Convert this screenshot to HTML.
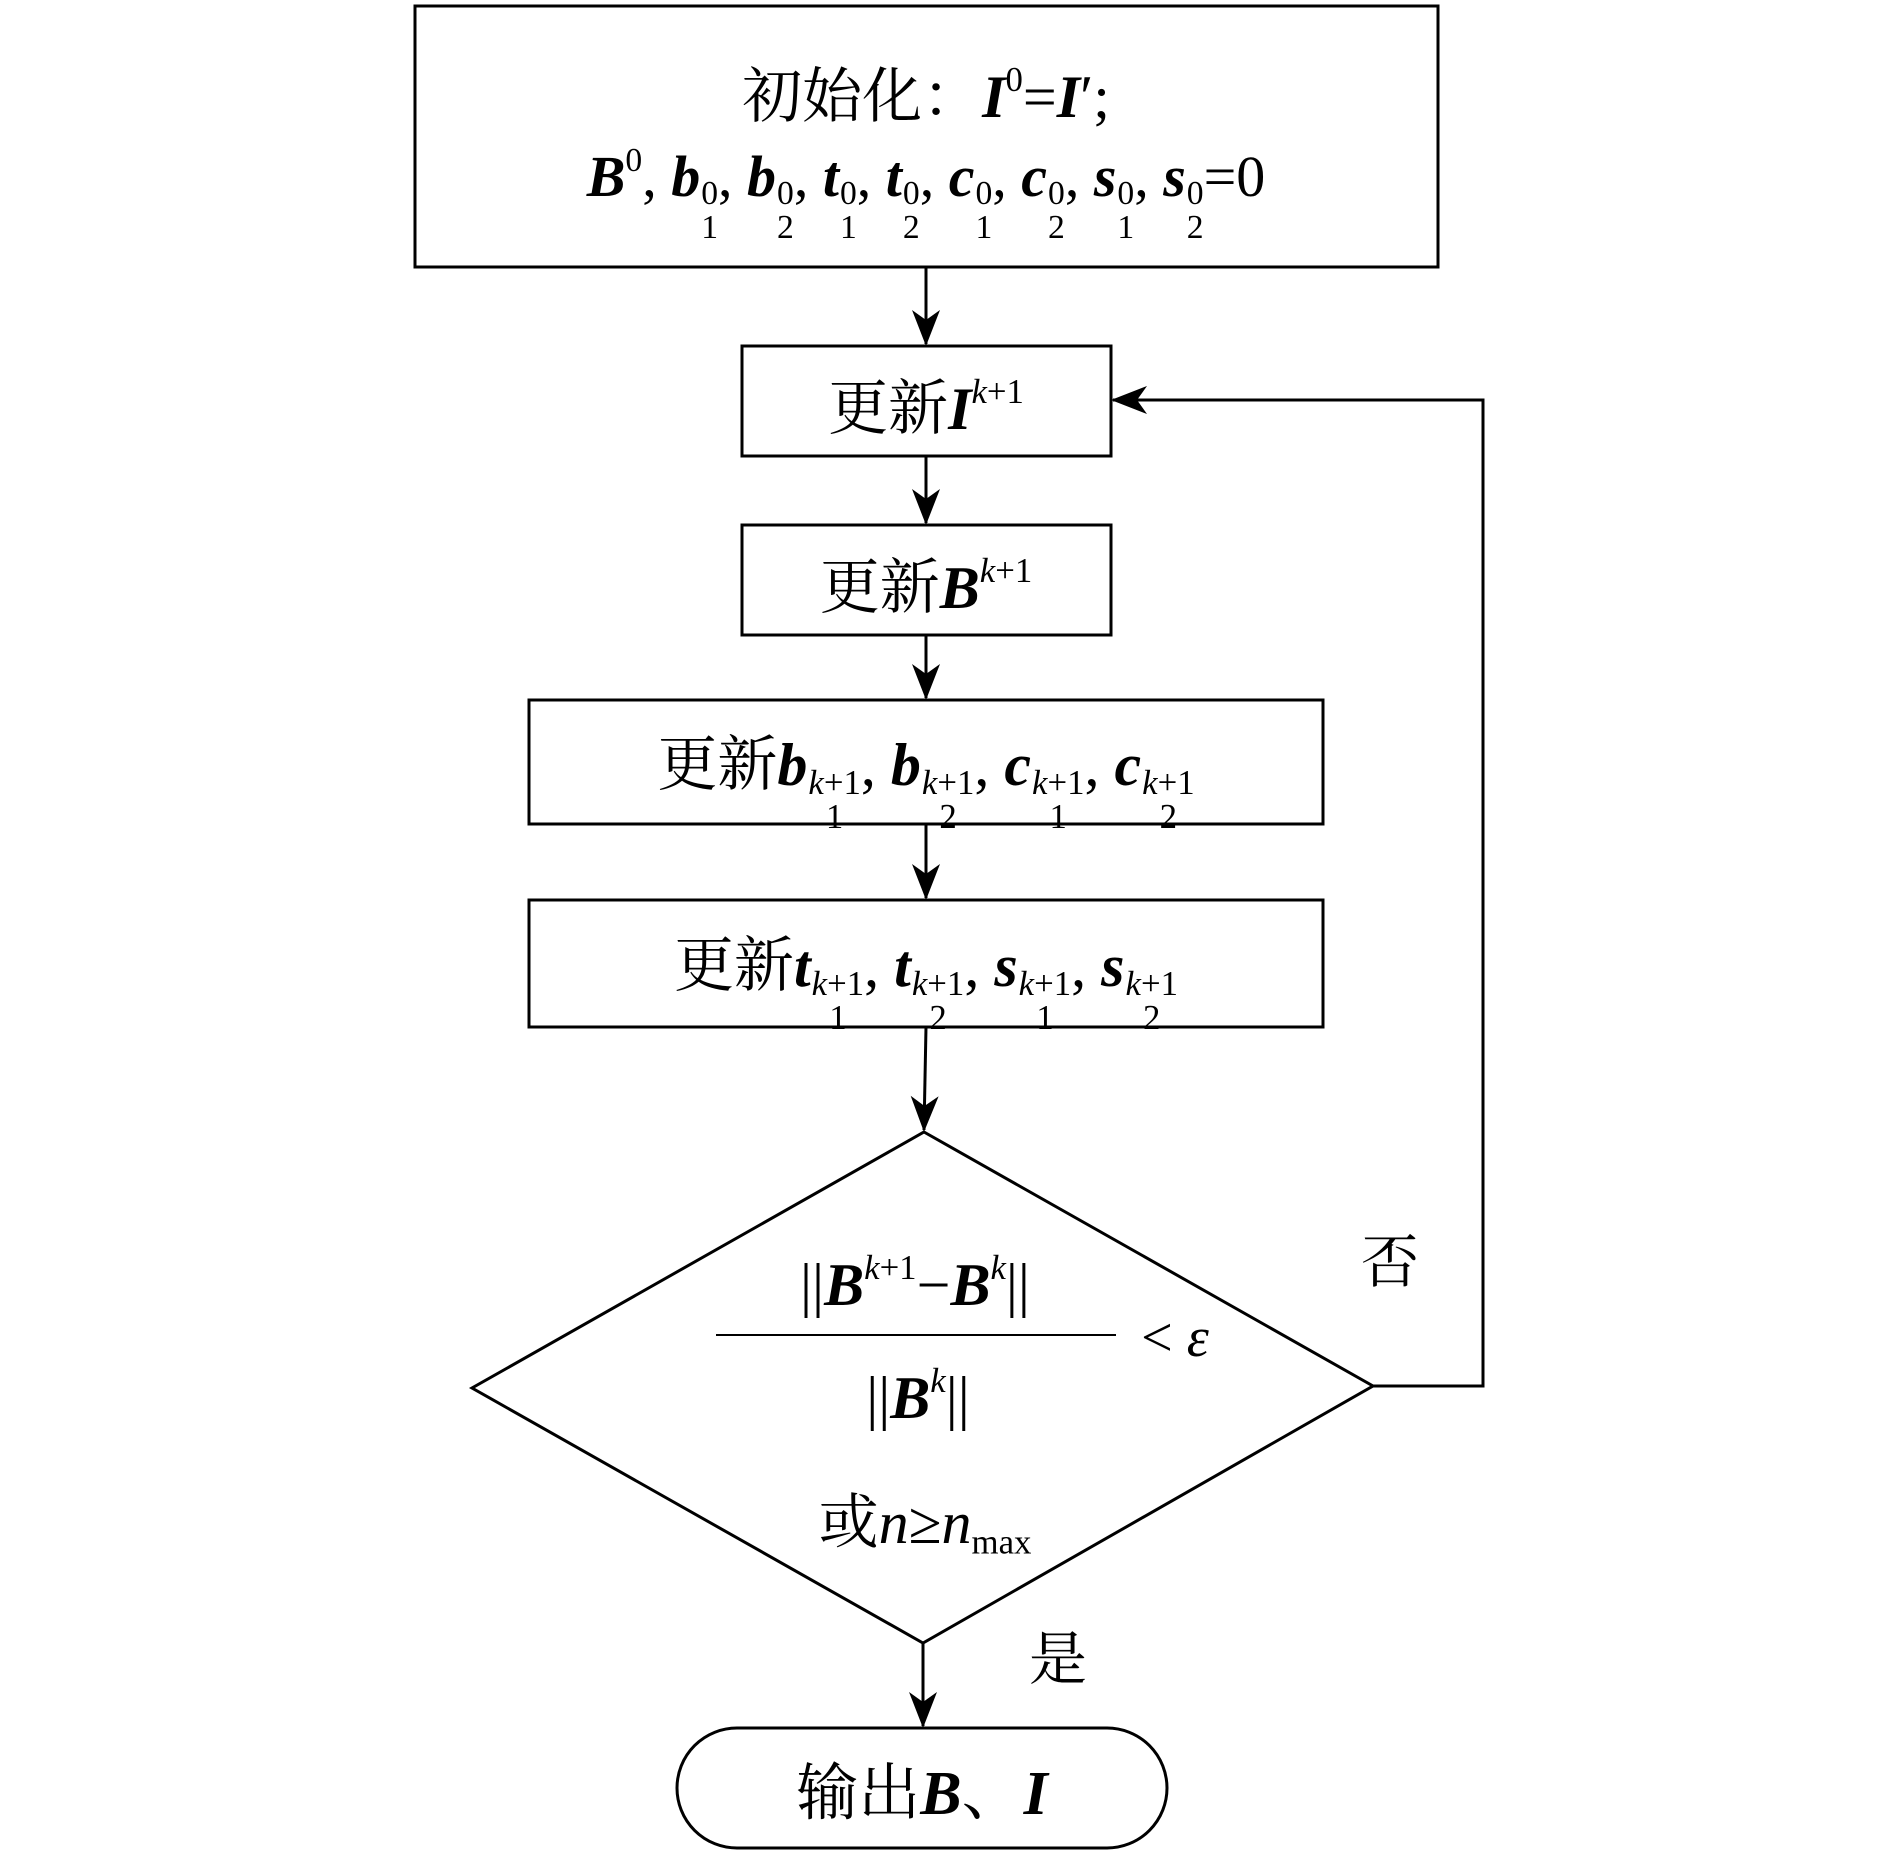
<!DOCTYPE html>
<html><head><meta charset="utf-8"><style>
html,body{margin:0;padding:0;background:#fff;}
body{width:1890px;height:1850px;position:relative;overflow:hidden;font-family:"Liberation Serif","Noto Serif CJK SC",serif;color:#000;}
svg{position:absolute;left:0;top:0;}
.t{position:absolute;white-space:nowrap;text-align:center;transform:translateX(-50%);line-height:1;}
.cn{font-family:"Noto Serif CJK SC","Liberation Serif",serif;}
.m{font-weight:bold;font-style:italic;}
.ss{display:inline-flex;flex-direction:column;font-size:0.58em;line-height:1;vertical-align:-0.25em;font-weight:normal;font-style:normal;margin-left:1px;}
.ss i{font-style:italic;}
sup{font-size:0.58em;font-weight:normal;font-style:normal;vertical-align:0.75em;line-height:0;}
sup i{font-style:italic;}
</style></head><body>
<svg width="1890" height="1850" viewBox="0 0 1890 1850">
<defs><marker id="a" markerWidth="14" markerHeight="14" refX="13" refY="7" orient="auto" markerUnits="userSpaceOnUse"><path d="M0,0 L14,7 L0,14 L4,7 z" fill="#000"/></marker>
<marker id="b" markerWidth="36" markerHeight="36" refX="34" refY="14" orient="auto" markerUnits="userSpaceOnUse"><path d="M0,0 L36,14 L0,28 L10,14 z" fill="#000"/></marker></defs>
<g fill="none" stroke="#000" stroke-width="3">
<rect x="415" y="6" width="1023" height="261"/>
<rect x="742" y="346" width="369" height="110"/>
<rect x="742" y="525" width="369" height="110"/>
<rect x="529" y="700" width="794" height="124"/>
<rect x="529" y="900" width="794" height="127"/>
<polygon points="924,1132 1373,1386 923,1643 472,1388"/>
<rect x="677" y="1728" width="490" height="120" rx="60" ry="60"/>
<line x1="926" y1="267" x2="926" y2="344" marker-end="url(#b)"/>
<line x1="926" y1="456" x2="926" y2="523" marker-end="url(#b)"/>
<line x1="926" y1="635" x2="926" y2="698" marker-end="url(#b)"/>
<line x1="926" y1="824" x2="926" y2="898" marker-end="url(#b)"/>
<line x1="926" y1="1027" x2="924" y2="1130" marker-end="url(#b)"/>
<line x1="923" y1="1643" x2="923" y2="1726" marker-end="url(#b)"/>
<polyline points="1373,1386 1483,1386 1483,400 1113,400" marker-end="url(#b)"/>
<line x1="716" y1="1335" x2="1116" y2="1335" stroke-width="2"/>
</g>
</svg>
<div class="t" style="left:926px;top:62px;font-size:60px;"><span class="cn">初始化：</span><span class="m">I</span><sup>0</sup>=<span class="m">I</span>′;</div>
<div class="t" style="left:926px;top:148px;font-size:58px;"><span class="m">B</span><sup>0</sup>, <span class="m">b</span><span class="ss"><span>0</span><span>1</span></span>, <span class="m">b</span><span class="ss"><span>0</span><span>2</span></span>, <span class="m">t</span><span class="ss"><span>0</span><span>1</span></span>, <span class="m">t</span><span class="ss"><span>0</span><span>2</span></span>, <span class="m">c</span><span class="ss"><span>0</span><span>1</span></span>, <span class="m">c</span><span class="ss"><span>0</span><span>2</span></span>, <span class="m">s</span><span class="ss"><span>0</span><span>1</span></span>, <span class="m">s</span><span class="ss"><span>0</span><span>2</span></span>=0</div>
<div class="t" style="left:926px;top:374px;font-size:60px;"><span class="cn">更新</span><span class="m">I</span><sup><i>k</i>+1</sup></div>
<div class="t" style="left:926px;top:553px;font-size:60px;"><span class="cn">更新</span><span class="m">B</span><sup><i>k</i>+1</sup></div>
<div class="t" style="left:926px;top:730px;font-size:60px;"><span class="cn">更新</span><span class="m">b</span><span class="ss"><span><i>k</i>+1</span><span>1</span></span>, <span class="m">b</span><span class="ss"><span><i>k</i>+1</span><span>2</span></span>, <span class="m">c</span><span class="ss"><span><i>k</i>+1</span><span>1</span></span>, <span class="m">c</span><span class="ss"><span><i>k</i>+1</span><span>2</span></span></div>
<div class="t" style="left:926px;top:931px;font-size:60px;"><span class="cn">更新</span><span class="m">t</span><span class="ss"><span><i>k</i>+1</span><span>1</span></span>, <span class="m">t</span><span class="ss"><span><i>k</i>+1</span><span>2</span></span>, <span class="m">s</span><span class="ss"><span><i>k</i>+1</span><span>1</span></span>, <span class="m">s</span><span class="ss"><span><i>k</i>+1</span><span>2</span></span></div>
<div class="t" style="left:915px;top:1255px;font-size:60px;">||<span class="m">B</span><sup><i>k</i>+1</sup>−<span class="m">B</span><sup><i>k</i></sup>||</div>
<div class="t" style="left:1175px;top:1310px;font-size:56px;">&lt; <i>ε</i></div>
<div class="t" style="left:918px;top:1368px;font-size:60px;">||<span class="m">B</span><sup><i>k</i></sup>||</div>
<div class="t" style="left:925px;top:1488px;font-size:60px;"><span class="cn">或</span><i>n</i>≥<i>n</i><span style="font-size:0.58em;vertical-align:-0.3em;">max</span></div>
<div class="t cn" style="left:1390px;top:1228px;font-size:58px;">否</div>
<div class="t cn" style="left:1058px;top:1625px;font-size:58px;">是</div>
<div class="t" style="left:922px;top:1757px;font-size:62px;"><span class="cn">输出</span><span class="m">B</span><span class="cn">、</span><span class="m">I</span></div>
</body></html>
